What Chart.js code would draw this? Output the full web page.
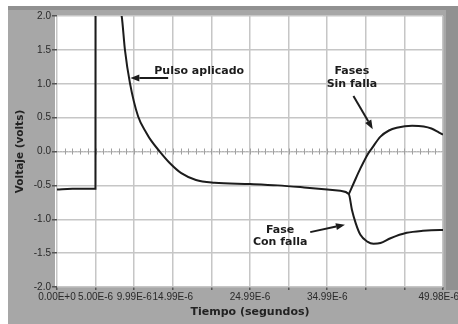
<!DOCTYPE html>
<html>
<head>
<meta charset="utf-8">
<script src="https://cdn.jsdelivr.net/npm/chart.js@4/dist/chart.umd.min.js"></script>
<style>
  html, body { margin: 0; padding: 0; background: #ffffff; }
  #wrap { width: 458px; height: 324px; position: relative; }
</style>
</head>
<body>
<div id="wrap"><canvas id="c" width="458" height="324"></canvas></div>
<script>
// Trace shared by all phases up to the fault instant (time in µs, voltage in V)
const timeCommon = [0, 2, 4.98, 5.0, 6.0, 7.0, 8.0, 8.38, 8.8, 9.45, 10.5, 11.6, 12.2, 13.3, 14.6, 16.1, 18.0, 20.4, 25.0, 28.6, 32.0, 35.0, 36.7, 37.8];
const voltCommon = [-0.56, -0.55, -0.55, 5.5, 3.6, 2.6, 2.15, 2.0, 1.5, 1.01, 0.52, 0.27, 0.16, 0.0, -0.17, -0.32, -0.42, -0.46, -0.48, -0.50, -0.53, -0.56, -0.58, -0.63];

// Faulted phase branch
const timeConFalla = [38.2, 38.7, 39.3, 40.2, 41.0, 41.9, 43.2, 45.3, 47.4, 49.6, 50.0];
const voltConFalla = [-0.86, -1.06, -1.23, -1.33, -1.36, -1.35, -1.28, -1.20, -1.17, -1.16, -1.16];

// Healthy phases branch
const timeSinFalla = [37.8, 38.5, 39.3, 40.2, 40.8, 41.9, 43.0, 44.0, 46.0, 47.5, 48.5, 49.5, 50.0];
const voltSinFalla = [-0.63, -0.45, -0.25, -0.05, 0.05, 0.22, 0.31, 0.35, 0.38, 0.37, 0.34, 0.28, 0.25];

// Axis tick labels
const xTickLabels = ['0.00E+0', '5.00E-6', '9.99E-6', '14.99E-6', '', '24.99E-6', '', '34.99E-6', '', '', '49.98E-6   '];
const yTickLabels = { '2': '2.0', '1.5': '1.5', '1': '1.0', '0.5': '0.5', '0': '0.0', '-0.5': '-0.5', '-1': '-1.0', '-1.5': '-1.5', '-2': '-2.0' };

const toPoints = (ts, vs) => ts.map((t, i) => ({ x: t, y: vs[i] }));

// Callouts, anchored in data units (µs, V)
const callouts = [
  { lines: ['Pulso aplicado'], x: 12.6, y: [1.19], align: 'left',
    arrow: { from: [14.4, 1.085], to: [9.5, 1.085] } },
  { lines: ['Fases', 'Sin falla'], x: 38.2, y: [1.19, 1.0], align: 'center',
    arrow: { from: [38.4, 0.82], to: [40.9, 0.33] } },
  { lines: ['Fase', 'Con falla'], x: 28.9, y: [-1.16, -1.34], align: 'center',
    arrow: { from: [32.8, -1.19], to: [37.3, -1.08] } }
];

const frame = {
  id: 'frame',
  beforeDraw(chart) {
    const { ctx, chartArea: a, width, height } = chart;
    ctx.save();
    ctx.fillStyle = '#ffffff';
    ctx.fillRect(0, 0, width, height);
    ctx.fillStyle = '#a7a7a7';
    ctx.fillRect(8, 6, width - 8, height - 6);
    ctx.fillStyle = '#919191';
    ctx.fillRect(8, 6, width - 8, 4);
    ctx.fillRect(446, 6, width - 446, 284);
    ctx.fillStyle = '#ffffff';
    ctx.fillRect(a.left - 2, a.top, a.right - a.left + 2, a.bottom - a.top);
    ctx.restore();
  },
  beforeDatasetsDraw(chart) {
    // zero reference line with 1 µs marks
    const { ctx, scales: { x, y } } = chart;
    const y0 = y.getPixelForValue(0);
    ctx.save();
    ctx.strokeStyle = '#b5b5b5';
    ctx.lineWidth = 1;
    ctx.setLineDash([2, 1]);
    ctx.beginPath();
    ctx.moveTo(x.left, y0);
    ctx.lineTo(x.right, y0);
    ctx.stroke();
    ctx.setLineDash([]);
    ctx.strokeStyle = '#a0a0a0';
    for (let t = 1; t < 50; t++) {
      const px = Math.round(x.getPixelForValue(t)) + 0.5;
      ctx.beginPath();
      ctx.moveTo(px, y0 - 3);
      ctx.lineTo(px, y0 + 3);
      ctx.stroke();
    }
    ctx.restore();
  },
  afterDatasetsDraw(chart) {
    const { ctx, scales: { x, y } } = chart;
    ctx.save();
    ctx.fillStyle = '#1c1c1c';
    ctx.strokeStyle = '#1c1c1c';
    ctx.font = 'bold 11px "DejaVu Sans", sans-serif';
    ctx.textBaseline = 'middle';
    callouts.forEach(c => {
      ctx.textAlign = c.align;
      c.lines.forEach((ln, i) => ctx.fillText(ln, x.getPixelForValue(c.x), y.getPixelForValue(c.y[i])));
      const x1 = x.getPixelForValue(c.arrow.from[0]), y1 = y.getPixelForValue(c.arrow.from[1]);
      const x2 = x.getPixelForValue(c.arrow.to[0]), y2 = y.getPixelForValue(c.arrow.to[1]);
      const ang = Math.atan2(y2 - y1, x2 - x1);
      const head = 9, half = 3.5;
      const bx = x2 - head * Math.cos(ang), by = y2 - head * Math.sin(ang);
      ctx.lineWidth = 2;
      ctx.beginPath();
      ctx.moveTo(x1, y1);
      ctx.lineTo(bx, by);
      ctx.stroke();
      ctx.beginPath();
      ctx.moveTo(x2, y2);
      ctx.lineTo(bx + half * Math.sin(ang), by - half * Math.cos(ang));
      ctx.lineTo(bx - half * Math.sin(ang), by + half * Math.cos(ang));
      ctx.closePath();
      ctx.fill();
    });
    ctx.restore();
  }
};

const tickFont = { family: '"Liberation Sans", Arial, sans-serif', size: 10 };
const titleFont = { family: '"DejaVu Sans", sans-serif', size: 11, weight: 'bold' };

new Chart(document.getElementById('c'), {
  type: 'line',
  data: {
    datasets: [
      {
        label: 'Fase Con falla',
        data: toPoints(timeCommon.concat(timeConFalla), voltCommon.concat(voltConFalla)),
        borderColor: '#1c1c1c', borderWidth: 2, pointRadius: 0,
        cubicInterpolationMode: 'monotone', clip: 0
      },
      {
        label: 'Fases Sin falla',
        data: toPoints(timeSinFalla, voltSinFalla),
        borderColor: '#1c1c1c', borderWidth: 2, pointRadius: 0,
        cubicInterpolationMode: 'monotone', clip: 0
      }
    ]
  },
  options: {
    responsive: false,
    animation: false,
    devicePixelRatio: 1,
    layout: { padding: { top: 16, right: 15, bottom: 0, left: 0 } },
    plugins: { legend: { display: false }, tooltip: { enabled: false } },
    scales: {
      x: {
        type: 'linear', min: 0, max: 50,
        border: { display: false },
        grid: { color: '#c6c6c6', lineWidth: 1.5, tickLength: 3, tickColor: '#555' },
        ticks: {
          stepSize: 5, autoSkip: false, maxRotation: 0, minRotation: 0,
          padding: 1, color: '#2a2a2a', font: tickFont,
          callback: (v, i) => xTickLabels[i]
        },
        title: { display: true, text: 'Tiempo (segundos)', color: '#222', font: titleFont, padding: { top: 0, bottom: 5 } },
        afterFit(s) { s.height = 37; s.paddingLeft = 0; s.paddingRight = 0; }
      },
      y: {
        type: 'linear', min: -2, max: 2,
        border: { display: false },
        grid: { color: '#c6c6c6', lineWidth: 1.5, tickLength: 5, tickColor: '#555' },
        ticks: {
          stepSize: 0.5, padding: 1, color: '#2a2a2a', font: tickFont,
          callback: v => yTickLabels[String(v)]
        },
        title: { display: true, text: 'Voltaje (volts)', color: '#222', font: { family: '"DejaVu Sans", sans-serif', size: 10.5, weight: 'bold' }, padding: { top: 14, bottom: 0 } },
        afterFit(s) { s.width = 57; s.paddingTop = 0; s.paddingBottom = 0; }
      }
    }
  },
  plugins: [frame]
});
</script>
</body>
</html>
